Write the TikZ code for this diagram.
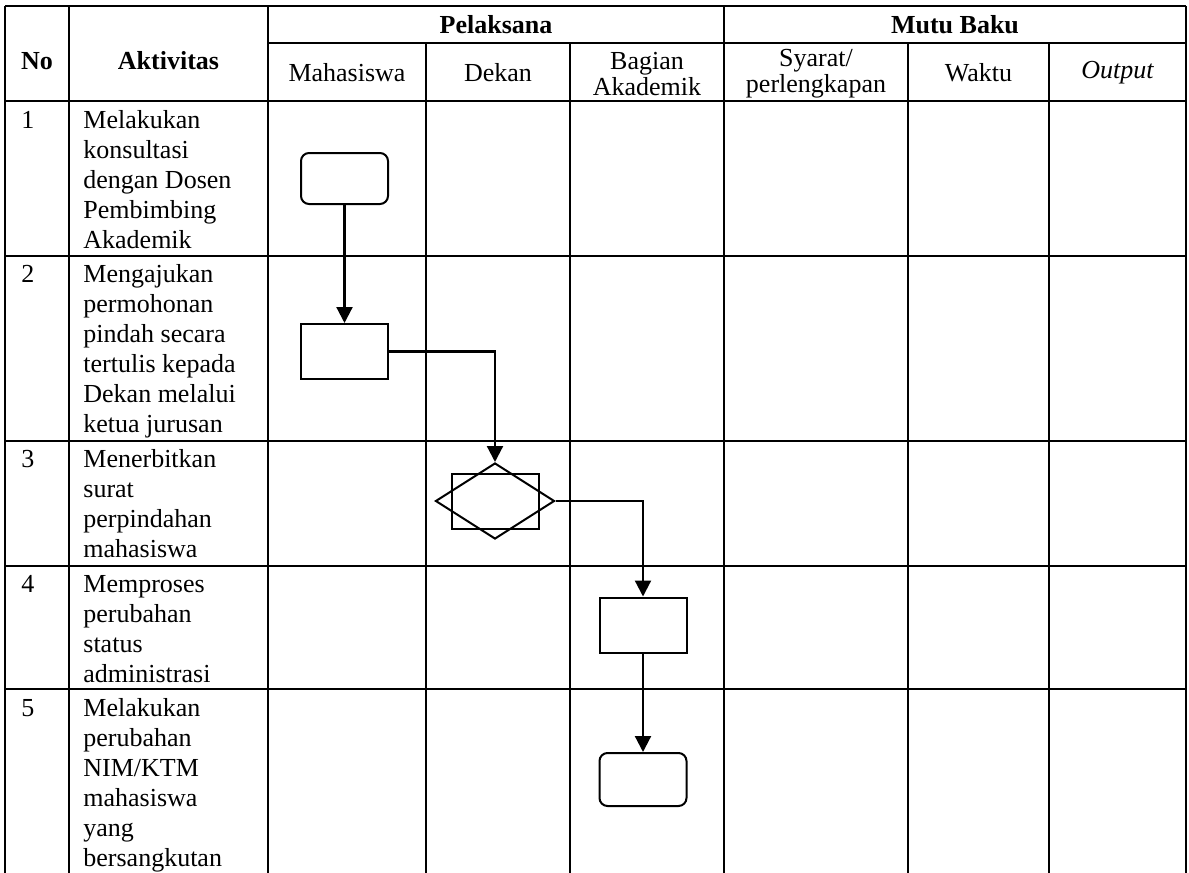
\documentclass[tikz,border=0pt]{standalone}
\usepackage{fontspec}
\setmainfont{Liberation Serif}
\usetikzlibrary{shapes.geometric,arrows.meta}

\tikzset{
  garis/.style={line width=1pt},
  mulai/.style={draw,line width=1pt,rounded corners=4pt,minimum width=43.5pt,minimum height=25.5pt,inner sep=0pt},
  kotak/.style={draw,line width=1pt,minimum width=43.5pt,minimum height=27.5pt,inner sep=0pt},
  putusan/.style={draw,line width=1pt,diamond,minimum width=59.5pt,minimum height=38pt,inner sep=0pt},
  alir/.style={line width=1.1pt,-{Triangle[length=8pt,width=8pt]}},
  isi/.style={anchor=north west,align=left,inner sep=0pt,font=\fontsize{13}{15}\selectfont},
  judul/.style={align=center,inner sep=0pt,font=\fontsize{13}{13}\selectfont},
  judultebal/.style={judul,font=\fontsize{13}{15}\selectfont\bfseries},
}

\begin{document}
\begin{tikzpicture}[x=0.5pt,y=-0.5pt]
\useasboundingbox (0,0) rectangle (1189,873);

\draw[garis] (5,6) -- (1186,6);
\draw[garis] (268,43) -- (1186,43);
\draw[garis] (5,101) -- (1186,101);
\draw[garis] (5,256) -- (1186,256);
\draw[garis] (5,441) -- (1186,441);
\draw[garis] (5,566) -- (1186,566);
\draw[garis] (5,689) -- (1186,689);

\draw[garis] (5,6) -- (5,873);
\draw[garis] (69,6) -- (69,873);
\draw[garis] (268,6) -- (268,873);
\draw[garis] (426,43) -- (426,873);
\draw[garis] (570,43) -- (570,873);
\draw[garis] (724,6) -- (724,873);
\draw[garis] (908,43) -- (908,873);
\draw[garis] (1049,43) -- (1049,873);
\draw[garis] (1186,6) -- (1186,873);

\node[judultebal] (hno) at (37,61) {No};
\node[judultebal] (hakt) at (168.5,61) {Aktivitas};
\node[judultebal] (hpel) at (496,25) {Pelaksana};
\node[judultebal] (hmutu) at (955,25) {Mutu Baku};
\node[judul] (hmhs) at (347,73) {Mahasiswa};
\node[judul] (hdekan) at (498,73) {Dekan};
\node[judul] (hbag) at (647,74) {Bagian\\Akademik};
\node[judul] (hsyarat) at (816,74) {Syarat/\\perlengkapan};
\node[judul] (hwaktu) at (978.5,73) {Waktu};
\node[judul] (houtput) at (1117.5,73) {\itshape Output};

\node[isi] (no1) at (21,107) {\strut 1};
\node[isi] (no2) at (21,261) {\strut 2};
\node[isi] (no3) at (21,446) {\strut 3};
\node[isi] (no4) at (21,571) {\strut 4};
\node[isi] (no5) at (21,695) {\strut 5};

\node[isi] (akt1) at (83,107) {\strut Melakukan\\konsultasi\\dengan Dosen\\Pembimbing\\Akademik};
\node[isi] (akt2) at (83,261) {\strut Mengajukan\\permohonan\\pindah secara\\tertulis kepada\\Dekan melalui\\ketua jurusan};
\node[isi] (akt3) at (83,446) {\strut Menerbitkan\\surat\\perpindahan\\mahasiswa};
\node[isi] (akt4) at (83,571) {\strut Memproses\\perubahan\\status\\administrasi};
\node[isi] (akt5) at (83,695) {\strut Melakukan\\perubahan\\NIM/KTM\\mahasiswa\\yang\\bersangkutan};

\node[mulai] (konsul) at (344.5,178.5) {};
\node[kotak] (ajukan) at (344.5,351.5) {};
\node[kotak] (terbitbox) at (495,501.5) {};
\node[putusan] (terbit) at (495,501) {};
\node[kotak] (proses) at (643,625) {};
\node[mulai,minimum height=26.5pt] (ubah) at (643,779.5) {};

\draw[alir] (konsul.south) -- (ajukan.north);
\draw[alir] (ajukan.east) -| (terbit.north);
\draw[alir] (terbit.east) -| (proses.north);
\draw[alir] (proses.south) -- (ubah.north);

\end{tikzpicture}
\end{document}
